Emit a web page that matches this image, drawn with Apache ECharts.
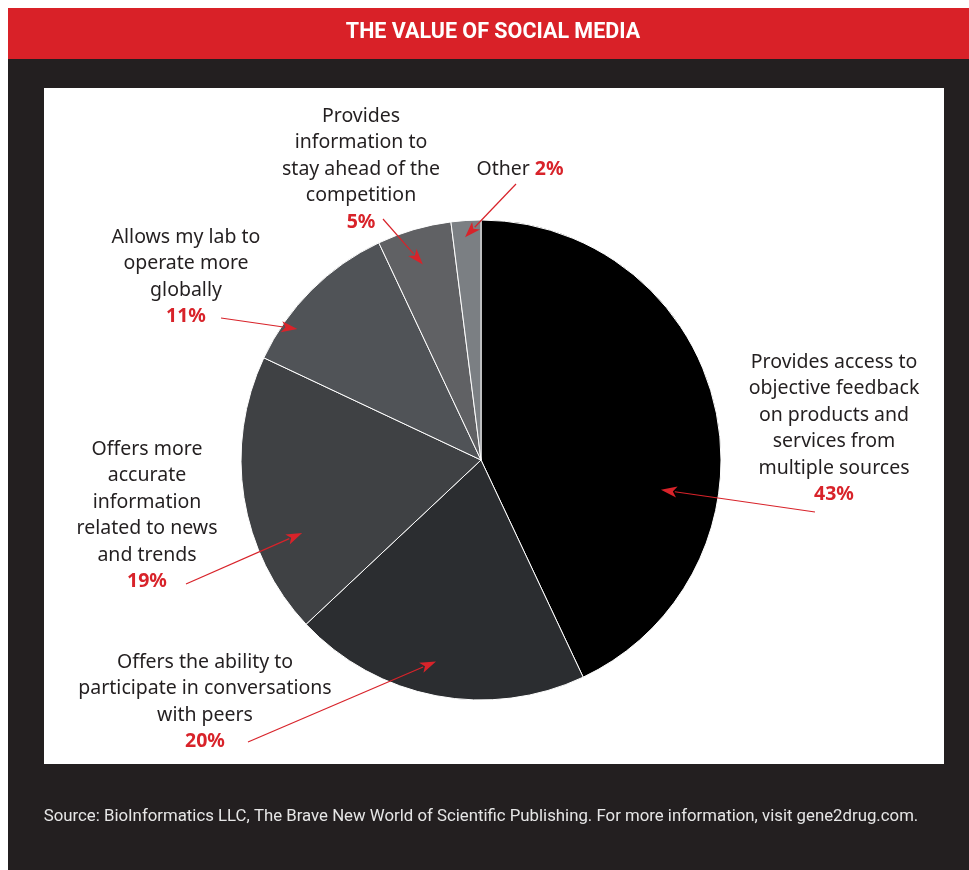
<!DOCTYPE html>
<html>
<head>
<meta charset="utf-8">
<style>html,body{margin:0;padding:0;background:#fff;}#c{width:969px;height:870px;}</style>
<script src="https://cdn.jsdelivr.net/npm/echarts@6/dist/echarts.min.js"></script>
</head>
<body>
<div id="c"></div>
<script>
// ---- data ----
const categories = [
  'Provides access to\nobjective feedback\non products and\nservices from\nmultiple sources',
  'Offers the ability to\nparticipate in conversations\nwith peers',
  'Offers more\naccurate\ninformation\nrelated to news\nand trends',
  'Allows my lab to\noperate more\nglobally',
  'Provides\ninformation to\nstay ahead of the\ncompetition',
  'Other'
];
const values = [43, 20, 19, 11, 5, 2];
const valueLabels = ['43%', '20%', '19%', '11%', '5%', '2%'];

// ---- styles / layout ----
const sliceColors = ['#000000', '#2b2d30', '#3f4144', '#505357', '#606164', '#7b7f83'];
const CX = 481, CY = 460, R = 240;
const LH = 26.5;
// label anchor: centre x, first line centre y
const labelPos = [[834, 362], [205, 662], [147, 449], [186, 237], [361, 116], [520, 169]];
// arrow tails (near labels)
const arrowTail = [[815, 512], [248, 742], [186, 584], [221, 318], [383, 219], [516, 184]];
// arrow tips: fraction within the slice angle, fraction of radius
const arrowTip = [[0.642, 0.76], [0.525, 0.86], [0.307, 0.805], [0.26, 0.94], [0.48, 0.85], [0.43, 0.93]];

const TXT = '#231f20', RED = '#d8232a';
const FONT = "'Noto Sans', 'Open Sans', sans-serif";

const chart = echarts.init(document.getElementById('c'));

const total = values.reduce((a, b) => a + b, 0);
const graphics = [
  { type: 'rect', shape: { x: 8, y: 8, width: 961, height: 51 }, style: { fill: '#d92128' }, z: -10 },
  { type: 'rect', shape: { x: 8, y: 59, width: 961, height: 811 }, style: { fill: '#231f20' }, z: -10 },
  { type: 'rect', shape: { x: 44, y: 88, width: 900, height: 676 }, style: { fill: '#ffffff' }, z: -9 },
  { type: 'text', x: 493, y: 33, style: { text: 'THE VALUE OF SOCIAL MEDIA', fill: '#fff', font: "bold 21.5px 'Roboto', sans-serif", textAlign: 'center', textVerticalAlign: 'middle' } },
  { type: 'text', x: 481, y: 817, style: { text: 'Source: BioInformatics LLC, The Brave New World of Scientific Publishing. For more information, visit gene2drug.com.', fill: '#e6e6e6', font: "16.8px 'Roboto', sans-serif", textAlign: 'center', textVerticalAlign: 'middle' } }
];

// arrows computed from the pie geometry
let cum = 0;
values.forEach((v, i) => {
  const a0 = cum / total * 360, a1 = (cum + v) / total * 360;
  cum += v;
  const ang = (a0 + (a1 - a0) * arrowTip[i][0]) * Math.PI / 180;
  const rr = R * arrowTip[i][1];
  const tx = CX + rr * Math.sin(ang), ty = CY - rr * Math.cos(ang);
  const [sx, sy] = arrowTail[i];
  const dx = tx - sx, dy = ty - sy, L = Math.hypot(dx, dy);
  const ux = dx / L, uy = dy / L;
  const hl = 16, hw = 5.5;
  const bx = tx - ux * hl, by = ty - uy * hl;
  graphics.push({ type: 'line', shape: { x1: sx, y1: sy, x2: bx + ux * 2, y2: by + uy * 2 }, style: { stroke: RED, lineWidth: 1.2 }, z: 100 });
  graphics.push({ type: 'polygon', shape: { points: [[tx, ty], [bx - uy * hw, by + ux * hw], [bx + ux * 4, by + uy * 4], [bx + uy * hw, by - ux * hw]] }, style: { fill: RED }, z: 100 });
});

const data = categories.map((c, i) => ({
  name: c,
  value: values[i],
  itemStyle: { color: sliceColors[i] }
}));

chart.setOption({
  backgroundColor: '#ffffff',
  animation: false,
  graphic: graphics,
  series: [{
    type: 'pie',
    center: [CX, CY],
    radius: R,
    startAngle: 90,
    clockwise: true,
    data: data,
    itemStyle: { borderColor: '#ffffff', borderWidth: 1 },
    label: {
      show: true,
      position: 'outside',
      formatter: p => {
        const i = p.dataIndex;
        if (i === 5) return '{t|' + categories[i] + ' }{p|' + valueLabels[i] + '}';
        return '{t|' + categories[i] + '}\n{p|' + valueLabels[i] + '}';
      },
      rich: {
        t: { fontFamily: FONT, fontSize: 19.5, color: TXT, lineHeight: LH, align: 'center' },
        p: { fontFamily: FONT, fontSize: 19.5, fontWeight: 'bold', color: RED, lineHeight: LH, align: 'center' }
      }
    },
    labelLine: { show: false },
    labelLayout: params => {
      const i = params.dataIndex;
      return { x: labelPos[i][0], y: labelPos[i][1] - LH / 2, align: 'center', verticalAlign: 'top' };
    },
    emphasis: { disabled: true }
  }]
});
</script>
</body>
</html>
